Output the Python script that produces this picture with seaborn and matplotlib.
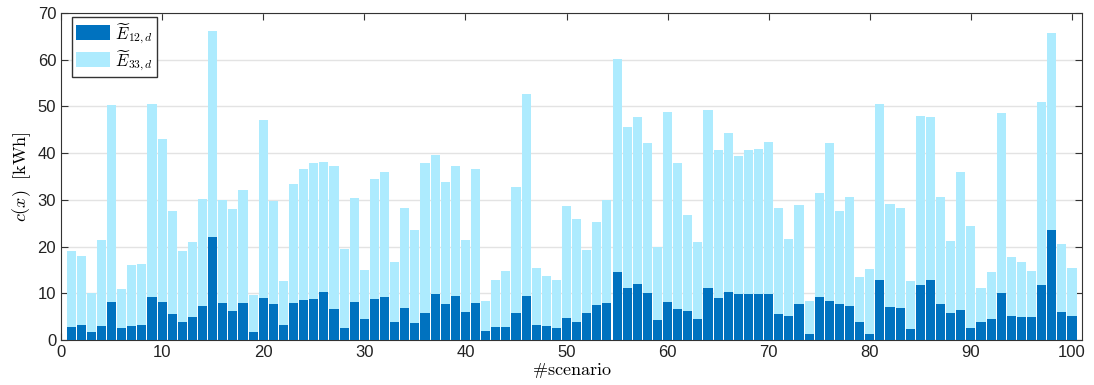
import numpy as np
import pandas as pd
import matplotlib
matplotlib.use("Agg")
import matplotlib.pyplot as plt
import seaborn as sns

# values (kWh per scenario)
scenario = list(range(1, 101))

# bar tops (E33 series drawn behind)
e33 = [19.1, 17.9, 10.1, 21.3, 50.4, 11.0, 16.0, 16.2, 50.6, 43.1,
       27.7, 19.0, 21.0, 30.1, 66.2, 30.0, 28.0, 32.1, 9.6, 47.2,
       29.7, 12.6, 33.3, 36.7, 37.9, 38.2, 37.3, 19.4, 30.4, 15.0,
       34.5, 35.9, 16.6, 28.3, 23.6, 38.0, 39.7, 33.8, 37.3, 21.3,
       36.6, 8.4, 12.8, 14.8, 32.7, 52.6, 15.5, 13.8, 12.8, 28.6,
       26.0, 19.3, 25.2, 29.9, 60.1, 45.7, 47.8, 42.1, 20.0, 48.8,
       37.9, 26.7, 20.9, 49.3, 40.6, 44.3, 39.4, 40.6, 40.8, 42.3,
       28.2, 21.7, 28.8, 8.4, 31.5, 42.1, 27.6, 30.7, 13.5, 15.2,
       50.5, 29.1, 28.2, 12.7, 47.9, 47.7, 30.6, 21.1, 36.0, 24.3,
       11.2, 14.5, 48.7, 17.7, 16.7, 14.8, 50.9, 65.8, 20.6, 15.5]

e12 = [2.7, 3.2, 1.8, 2.9, 8.2, 2.6, 2.9, 3.1, 9.1, 8.1,
       5.5, 3.9, 5.0, 7.2, 22.1, 7.9, 6.1, 7.9, 1.8, 8.9,
       7.7, 3.2, 7.9, 8.5, 8.7, 10.2, 6.7, 2.5, 8.1, 4.5,
       8.7, 9.1, 3.8, 6.9, 3.7, 5.8, 9.8, 7.7, 9.4, 6.0,
       8.0, 2.0, 2.8, 2.8, 5.7, 9.4, 3.3, 3.0, 2.6, 4.6,
       3.9, 5.7, 7.5, 7.9, 14.6, 11.2, 11.9, 10.1, 4.2, 8.2,
       6.6, 6.3, 4.4, 11.1, 8.9, 10.2, 9.9, 9.9, 9.9, 9.9,
       5.5, 5.2, 7.8, 1.3, 9.1, 8.3, 7.8, 7.2, 3.8, 1.3,
       12.9, 7.0, 6.8, 2.4, 11.8, 12.8, 7.6, 5.8, 6.4, 2.5,
       3.9, 4.4, 10.1, 5.2, 4.9, 5.0, 11.7, 23.6, 6.0, 5.1]

dark = "#0072BF"
light = "#ADEBFE"

df = pd.DataFrame({"scenario": scenario, "e12": e12, "e33": e33})

plt.rcParams["mathtext.fontset"] = "cm"
plt.rcParams["font.family"] = ["Liberation Sans", "DejaVu Sans"]

fig = plt.figure(figsize=(10.94, 3.85), dpi=100)
ax = fig.add_axes([0.0558, 0.117, 0.9333, 0.849])

sns.barplot(data=df, x="scenario", y="e33", native_scale=True, width=0.9,
            color=light, saturation=1, linewidth=0, ax=ax,
            label=r"$\widetilde{E}_{33,d}$", zorder=2)
sns.barplot(data=df, x="scenario", y="e12", native_scale=True, width=0.9,
            color=dark, saturation=1, linewidth=0, ax=ax,
            label=r"$\widetilde{E}_{12,d}$", zorder=3)

ax.set_xlim(0, 101)
ax.set_ylim(0, 70)
ax.set_xticks(np.arange(0, 101, 10))
ax.set_yticks(np.arange(0, 71, 10))
ax.yaxis.grid(True, color="#e3e3e3", linewidth=1, zorder=0)
ax.xaxis.grid(False)
ax.set_axisbelow(True)
ax.tick_params(direction="in", top=True, right=True, length=5,
               labelsize=12, color="#333333", labelcolor="#222222", width=0.8)
for sp in ax.spines.values():
    sp.set_color("#333333")
    sp.set_linewidth(0.8)

ax.set_xlabel(r"$\#\mathrm{scenario}$", fontsize=13, labelpad=1)
ax.set_ylabel(r"$c(x)\ \ \mathrm{[kWh]}$", fontsize=13, labelpad=3)

h, l = ax.get_legend_handles_labels()
ax.legend(h[::-1], l[::-1], loc="upper left", bbox_to_anchor=(0.011, 0.988),
          borderaxespad=0, fontsize=12, frameon=True,
          fancybox=False, edgecolor="#333333", framealpha=1,
          borderpad=0.25, handlelength=2.0, handleheight=1.0,
          handletextpad=0.3, labelspacing=0.15)

fig.savefig("out.png", dpi=100)
